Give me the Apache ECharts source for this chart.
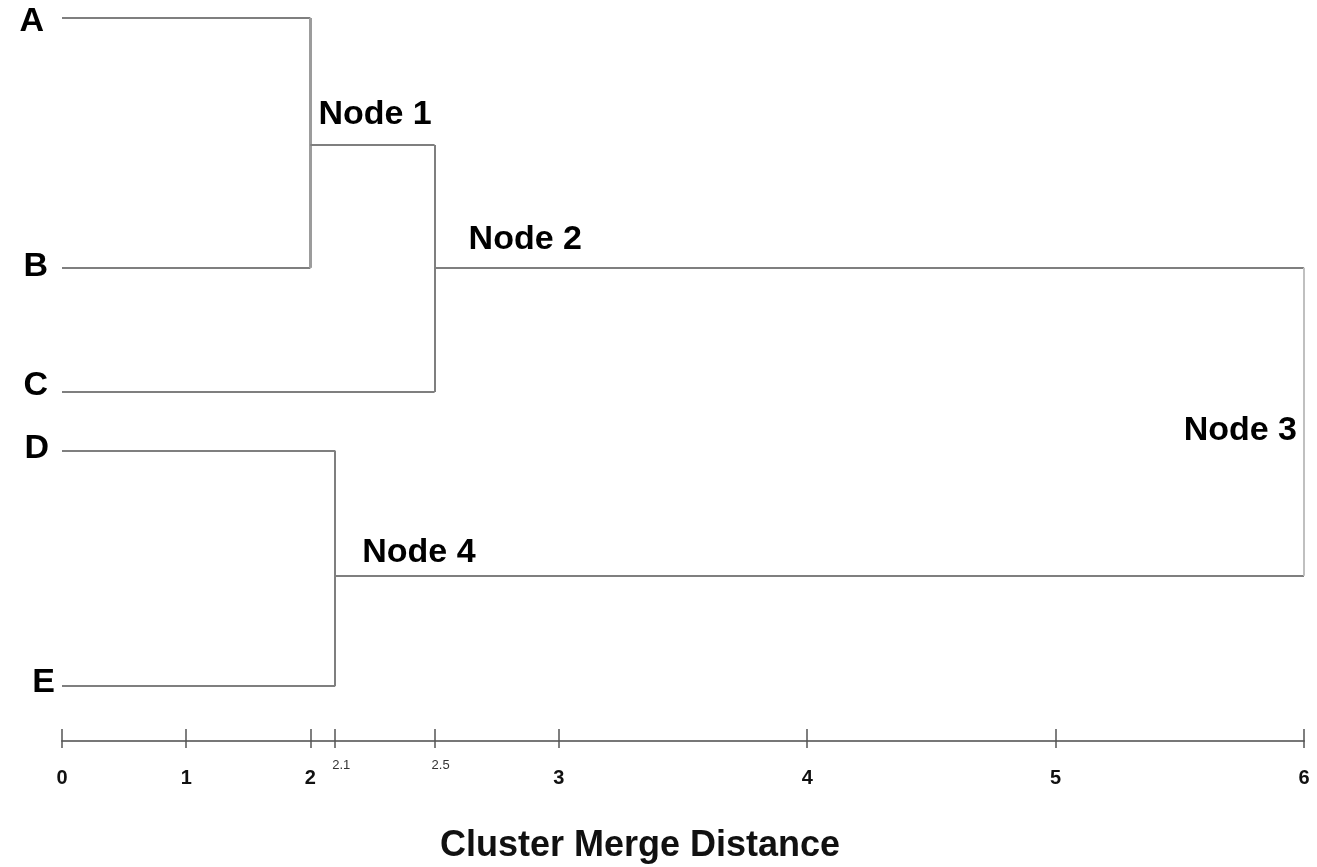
<!DOCTYPE html>
<html><head><meta charset="utf-8">
<script src="https://cdn.jsdelivr.net/npm/echarts@6/dist/echarts.min.js"></script>
<style>html,body{margin:0;padding:0;background:#fff}#c{width:1317px;height:867px}</style>
</head><body><div id="c"></div>
<script>
// ---- data ----
const leafNames = ['A', 'B', 'C', 'D', 'E'];
const leafRows = [0, 3.74, 5.60, 6.48, 10];          // vertical order of leaves
const nodeNames = ['Node 1', 'Node 2', 'Node 4', 'Node 3'];
const nodeDistances = [2, 2.5, 2.1, 6];               // cluster merge distance
const nodeRows = [1.90, 3.74, 8.35, 6.05];            // row where each merge is drawn
const nodeChildren = [['A', 'B'], ['Node 1', 'C'], ['D', 'E'], ['Node 2', 'Node 4']];
const tickValues = [0, 1, 2, 2.1, 2.5, 3, 4, 5, 6];
const majorTickLabels = [0, 1, 2, 3, 4, 5, 6];
const minorTickLabels = [2.1, 2.5];
const axisTitle = 'Cluster Merge Distance';

// ---- axis scale: 0..2 compressed, 2..6 expanded (as in the picture) ----
const toAxis = d => d <= 2 ? d : 2 * d - 2;
const fromAxis = p => p <= 2 ? p : (p + 2) / 2;

// ---- styles ----
const FONT = 'Liberation Sans, Arial, Helvetica, sans-serif';
const lineColor = '#7f7f7f';
const verticalStyles = { 'Node 1': { color: '#9c9c9c', width: 3 }, 'Node 3': { color: '#c0c0c0', width: 3 } };
const leafLabelOffsets = { A: [-4, 4], B: [0, -1], C: [0, -6], D: [1, -2], E: [7, -3] };
const nodeLabelStyle = {
  'Node 1': { pos: [8, -30], align: 'left' },
  'Node 2': { pos: [34, -28], align: 'left' },
  'Node 4': { pos: [27, -23], align: 'left' },
  'Node 3': { pos: [-7, 8], align: 'right' }
};

// ---- build tree geometry ----
const where = {};
leafNames.forEach((n, i) => { where[n] = [0, leafRows[i]]; });
nodeNames.forEach((n, i) => { where[n] = [toAxis(nodeDistances[i]), nodeRows[i]]; });

const segs = [];
nodeNames.forEach((n, i) => {
  const x = toAxis(nodeDistances[i]);
  const [c1, c2] = nodeChildren[i];
  const p1 = where[c1], p2 = where[c2];
  segs.push({ coords: [[p1[0], p1[1]], [x, p1[1]]] });
  segs.push({ coords: [[p2[0], p2[1]], [x, p2[1]]] });
  const vs = verticalStyles[n];
  segs.push({ coords: [[x, p1[1]], [x, p2[1]]], lineStyle: vs ? { color: vs.color, width: vs.width, opacity: 1 } : undefined });
});

const leafPoints = leafNames.map((n, i) => ({
  value: [0, leafRows[i]], name: n,
  label: { offset: leafLabelOffsets[n] }
}));
const nodePoints = nodeNames.map((n, i) => ({
  value: [toAxis(nodeDistances[i]), nodeRows[i]], name: n,
  label: { position: nodeLabelStyle[n].pos, align: nodeLabelStyle[n].align }
}));

const fmt = p => { const v = Math.round(fromAxis(p) * 10) / 10; return String(v); };

const chart = echarts.init(document.getElementById('c'), null, { renderer: 'canvas' });
chart.setOption({
  animation: false,
  backgroundColor: '#fff',
  grid: { left: 62, right: 13, top: 18, bottom: 181, containLabel: false, outerBoundsMode: 'none' },
  title: {
    text: axisTitle, left: 435, top: 823,
    textStyle: { fontFamily: FONT, fontSize: 36, fontWeight: 'bold', color: '#111' }
  },
  xAxis: [
    {
      type: 'value', min: 0, max: 10, position: 'bottom', offset: 55,
      splitLine: { show: false },
      axisLine: { show: true, onZero: false, lineStyle: { color: '#777', width: 2 } },
      axisTick: { show: true, inside: true, length: 12, customValues: tickValues.map(toAxis), lineStyle: { color: '#555', width: 1.5 } },
      axisLabel: {
        customValues: majorTickLabels.map(toAxis), formatter: fmt, margin: 27,
        fontFamily: FONT, fontSize: 20, fontWeight: 'bold', color: '#111'
      }
    },
    {
      type: 'value', min: 0, max: 10, position: 'bottom', offset: 55,
      splitLine: { show: false },
      axisLine: { show: false, onZero: false },
      axisTick: { show: true, inside: false, length: 7, customValues: tickValues.map(toAxis), lineStyle: { color: '#555', width: 1.5 } },
      axisLabel: {
        customValues: minorTickLabels.map(toAxis), formatter: fmt, margin: 18,
        fontFamily: FONT, fontSize: 13, color: '#333', padding: [0, 0, 0, 12]
      }
    }
  ],
  yAxis: { type: 'value', inverse: true, min: 0, max: 10, show: false },
  series: [
    {
      type: 'lines', coordinateSystem: 'cartesian2d', xAxisIndex: 0, yAxisIndex: 0,
      polyline: false, silent: true,
      lineStyle: { color: lineColor, width: 2, opacity: 1, curveness: 0 },
      data: segs
    },
    {
      type: 'scatter', symbolSize: 0, xAxisIndex: 0, silent: true,
      itemStyle: { opacity: 1 },
      label: {
        show: true, position: 'left', distance: 14, formatter: '{b}', opacity: 1,
        fontFamily: FONT, fontSize: 34, fontWeight: 'bold', color: '#000'
      },
      data: leafPoints
    },
    {
      type: 'scatter', symbolSize: 0, xAxisIndex: 0, silent: true,
      itemStyle: { opacity: 1 },
      label: {
        show: true, formatter: '{b}', verticalAlign: 'middle', opacity: 1,
        fontFamily: FONT, fontSize: 34, fontWeight: 'bold', color: '#000'
      },
      data: nodePoints
    }
  ]
});
</script>
</body></html>
